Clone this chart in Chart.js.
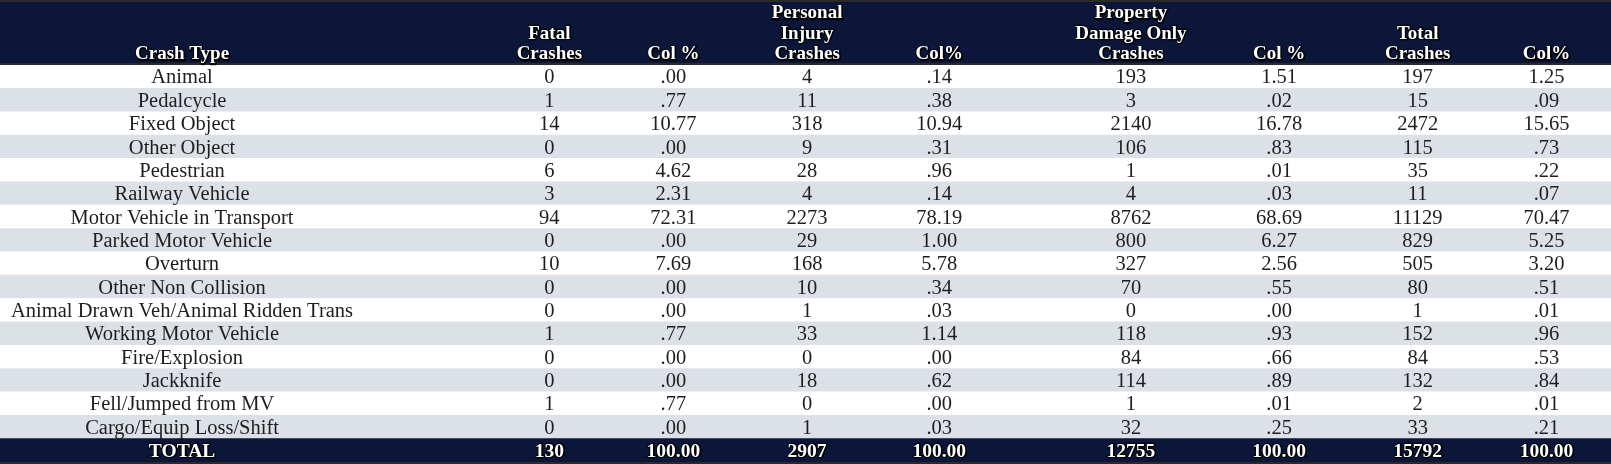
<!DOCTYPE html>
<html>
<head>
<meta charset="utf-8">
<script src="https://cdn.jsdelivr.net/npm/chart.js@4.4.1/dist/chart.umd.min.js"></script>
<style>
  html, body { margin: 0; padding: 0; background: #ffffff; }
  #wrap { width: 1611px; height: 464px; position: relative; }
</style>
</head>
<body>
<div id="wrap"><canvas id="crashTable"></canvas></div>
<script>
// table data
const crashTypes = ['Animal', 'Pedalcycle', 'Fixed Object', 'Other Object', 'Pedestrian', 'Railway Vehicle',
   'Motor Vehicle in Transport', 'Parked Motor Vehicle', 'Overturn', 'Other Non Collision',
   'Animal Drawn Veh/Animal Ridden Trans', 'Working Motor Vehicle', 'Fire/Explosion', 'Jackknife',
   'Fell/Jumped from MV', 'Cargo/Equip Loss/Shift'];
const fatal = [0, 1, 14, 0, 6, 3, 94, 0, 10, 0, 0, 1, 0, 0, 1, 0];
const fatalPct = [0, .77, 10.77, 0, 4.62, 2.31, 72.31, 0, 7.69, 0, 0, .77, 0, 0, .77, 0];
const injury = [4, 11, 318, 9, 28, 4, 2273, 29, 168, 10, 1, 33, 0, 18, 0, 1];
const injuryPct = [.14, .38, 10.94, .31, .96, .14, 78.19, 1.00, 5.78, .34, .03, 1.14, 0, .62, 0, .03];
const pdo = [193, 3, 2140, 106, 1, 4, 8762, 800, 327, 70, 0, 118, 84, 114, 1, 32];
const pdoPct = [1.51, .02, 16.78, .83, .01, .03, 68.69, 6.27, 2.56, .55, 0, .93, .66, .89, .01, .25];
const totalCrashes = [197, 15, 2472, 115, 35, 11, 11129, 829, 505, 80, 1, 152, 84, 132, 2, 33];
const totalPct = [1.25, .09, 15.65, .73, .22, .07, 70.47, 5.25, 3.20, .51, .01, .96, .53, .84, .01, .21];
const totalRow = ['TOTAL', 130, 100, 2907, 100, 12755, 100, 15792, 100];

const headers = [['Crash Type'], ['Fatal', 'Crashes'], ['Col %'], ['Personal', 'Injury', 'Crashes'], ['Col%'],
   ['Property', 'Damage Only', 'Crashes'], ['Col %'], ['Total', 'Crashes'], ['Col%']];

// column centres, as a fraction of the table width
const colCenters = [0.113, 0.341, 0.418, 0.501, 0.583, 0.702, 0.794, 0.880, 0.960];

const navy = '#0b1638';
const stripe = '#dce0e7';
const serif = "'Liberation Serif', 'Times New Roman', serif";

// percentages print like ".77" / "10.77"
function pct(v) {
   let s = v.toFixed(2);
   return s.startsWith('0.') ? s.substring(1) : s;
}

const rows = crashTypes.map((t, i) => [t, fatal[i], pct(fatalPct[i]), injury[i], pct(injuryPct[i]),
   pdo[i], pct(pdoPct[i]), totalCrashes[i], pct(totalPct[i])]);
rows.push(totalRow.map((v, j) => (j % 2 === 0 && j > 0) ? v.toFixed(2) : String(v)));

const labels = [...crashTypes, 'TOTAL'];

// white bold text with the dark halo seen on the header
function haloText(ctx, text, cx, base) {
   ctx.lineJoin = 'round';
   ctx.lineWidth = 2.5;
   ctx.strokeStyle = 'rgba(0,0,0,0.85)';
   ctx.strokeText(text, cx + 0.5, base + 0.5);
   ctx.fillStyle = '#ffffff';
   ctx.fillText(text, cx, base);
}

const tablePlugin = {
   id: 'tablePlugin',
   beforeDraw(chart) {
      const ctx = chart.ctx;
      const area = chart.chartArea;
      ctx.save();
      ctx.fillStyle = '#ffffff';
      ctx.fillRect(0, 0, chart.width, chart.height);
      // header band
      ctx.fillStyle = navy;
      ctx.fillRect(0, 0, chart.width, area.top);
      ctx.fillStyle = '#2a2a2a';
      ctx.fillRect(0, 0, chart.width, 2);
      ctx.fillRect(0, area.top - 2, chart.width, 2);
      ctx.fillRect(0, area.bottom, chart.width, chart.height - area.bottom);
      ctx.restore();
   },
   afterDatasetsDraw(chart) {
      const ctx = chart.ctx;
      const x = chart.scales.x;
      const y = chart.scales.y;
      const area = chart.chartArea;
      ctx.save();
      ctx.textAlign = 'center';
      ctx.textBaseline = 'alphabetic';

      // header text
      ctx.font = 'bold 19px ' + serif;
      headers.forEach((lines, j) => {
         const cx = x.getPixelForValue(colCenters[j]);
         lines.forEach((line, k) => {
            const base = area.top - 6 - (lines.length - 1 - k) * 20.5;
            haloText(ctx, line, cx, base);
         });
      });

      // body rows
      rows.forEach((row, i) => {
         const cy = y.getPixelForValue(i);
         const isTotal = i === rows.length - 1;
         row.forEach((cell, j) => {
            const cx = x.getPixelForValue(colCenters[j]);
            if (isTotal) {
               ctx.font = 'bold 19.5px ' + serif;
               haloText(ctx, cell, cx, cy + 6.5);
            } else {
               ctx.font = '20.5px ' + serif;
               ctx.fillStyle = '#1e1e1e';
               ctx.fillText(cell, cx, cy + 6.8);
            }
         });
      });
      ctx.restore();
   }
};

const ctx = document.getElementById('crashTable').getContext('2d');
const crashTable = new Chart(ctx, {
   type: 'bar',
   data: {
      labels: labels,
      datasets: [{
         data: labels.map(() => [0, 1]),
         backgroundColor: labels.map((l, i) => i === labels.length - 1 ? navy : (i % 2 === 0 ? '#ffffff' : stripe)),
         borderWidth: 0,
         barPercentage: 1,
         categoryPercentage: 1
      }]
   },
   plugins: [tablePlugin],
   options: {
      indexAxis: 'y',
      responsive: true,
      maintainAspectRatio: false,
      animation: false,
      events: [],
      layout: { padding: { top: 65, bottom: 2, left: 0, right: 0 } },
      scales: {
         x: { min: 0, max: 1, display: false },
         y: { display: false }
      },
      plugins: {
         legend: { display: false },
         tooltip: { enabled: false },
         title: { display: false }
      }
   }
});
</script>
</body>
</html>
